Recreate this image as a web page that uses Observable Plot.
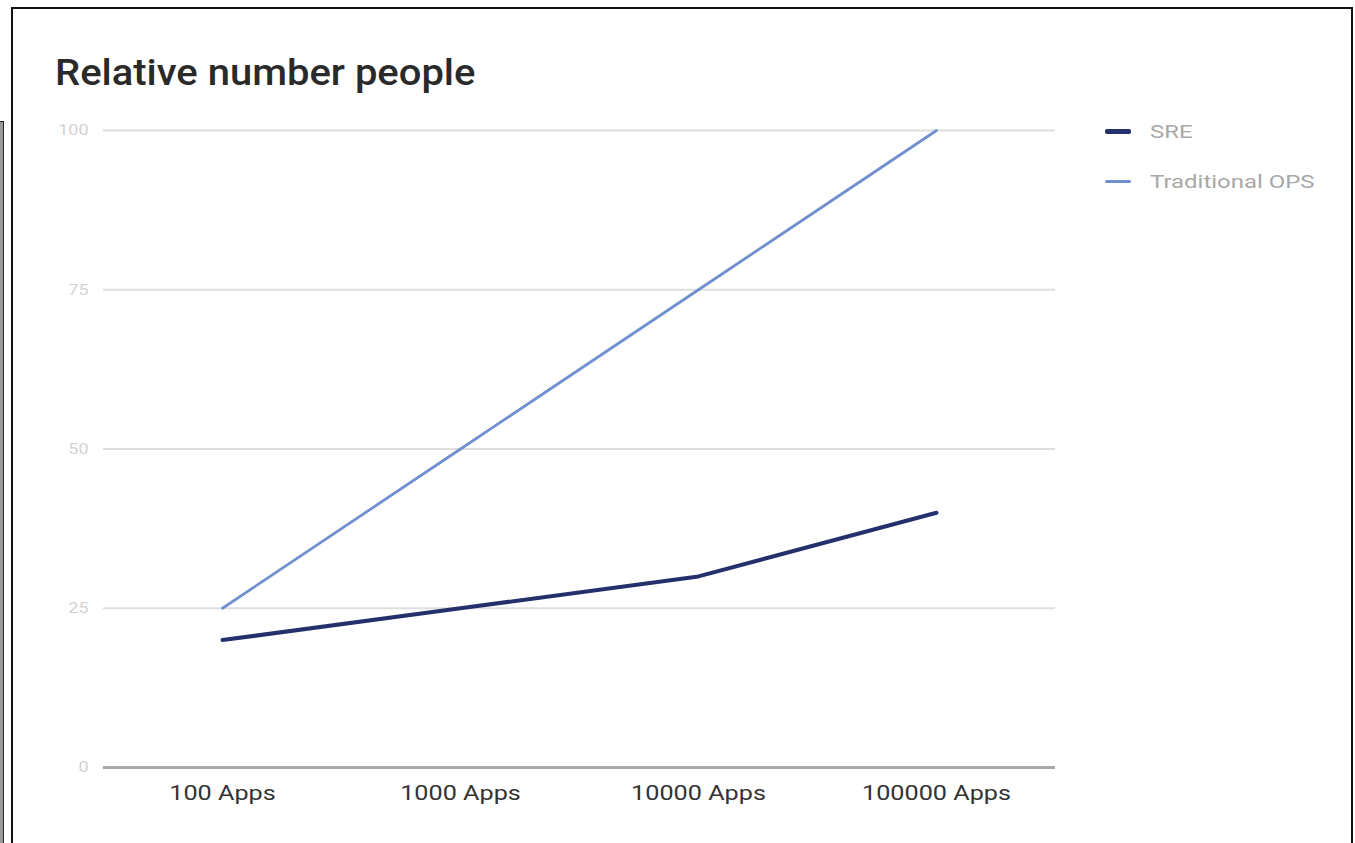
<!DOCTYPE html>
<html>
<head>
<meta charset="utf-8">
<script src="https://cdn.jsdelivr.net/npm/d3@7"></script>
<script src="https://cdn.jsdelivr.net/npm/@observablehq/plot@0.6"></script>
<style>
  html, body { margin: 0; padding: 0; background: #fff; }
  body { width: 1355px; height: 843px; position: relative; overflow: hidden; font-family: Roboto, "Noto Sans", sans-serif; }
  #frame { position: absolute; left: 11px; top: 7px; width: 1342px; height: 900px; border: 2px solid #111; box-sizing: border-box; }
  #sideframe { position: absolute; left: -2px; top: 121px; width: 6px; height: 800px; background: #9a9a9a; border: 1px solid #222; box-sizing: border-box; }
  #title { position: absolute; left: 55px; top: 52px; font-size: 36px; font-weight: 500; color: #2a2a2a; transform: scaleX(1.11); transform-origin: left center; white-space: nowrap; }
  #chart { position: absolute; left: 0; top: 0; }
  .leg { position: absolute; left: 1105px; display: flex; align-items: center; font-size: 19px; color: #a8a8a8; white-space: nowrap; }
  .leg .sw { width: 26px; margin-right: 19px; border-radius: 2px; }
  .leg span { display: inline-block; transform: scaleX(1.26); transform-origin: left center; }
</style>
</head>
<body>
<div id="frame"></div>
<div id="sideframe"></div>
<div id="chart"></div>
<div id="title">Relative number people</div>
<div id="legend"></div>
<script>
const categories = ["100 Apps", "1000 Apps", "10000 Apps", "100000 Apps"];
const sreValues = [20, 25, 30, 40];
const opsValues = [25, 50, 75, 100];
const seriesNames = ["SRE", "Traditional OPS"];
const seriesColors = ["#23306b", "#7090cf"];
const yTicks = [0, 25, 50, 75, 100];

const rows = [
  ...categories.map((c, i) => ({cat: c, value: sreValues[i], series: seriesNames[0]})),
  ...categories.map((c, i) => ({cat: c, value: opsValues[i], series: seriesNames[1]}))
];

const chart = Plot.plot({
  width: 1355,
  height: 843,
  marginLeft: 103,
  marginRight: 300,
  marginTop: 130,
  marginBottom: 76,
  style: {fontFamily: "Roboto, 'Noto Sans', sans-serif", background: "transparent"},
  x: {type: "point", domain: categories, padding: 0.5, label: null},
  y: {domain: [0, 100], ticks: yTicks, label: null},
  marks: [
    Plot.ruleY(yTicks.filter(t => t > 0), {stroke: "#dedede", strokeWidth: 2}),
    Plot.ruleY([0], {stroke: "#a8a8a8", strokeWidth: 3}),
    Plot.axisY({ticks: yTicks, tickSize: 0, tickPadding: 15, fontSize: 15, fill: "#d2d2d2", label: null}),
    Plot.axisX({tickSize: 0, tickPadding: 18, fontSize: 21, fill: "#333", label: null}),
    Plot.line(rows.filter(d => d.series === seriesNames[1]), {x: "cat", y: "value", stroke: seriesColors[1], strokeWidth: 2.8}),
    Plot.line(rows.filter(d => d.series === seriesNames[0]), {x: "cat", y: "value", stroke: seriesColors[0], strokeWidth: 4})
  ]
});
// widen tick labels horizontally, like the stretched reference
d3.select(chart).selectAll('g[aria-label="x-axis tick label"] text, g[aria-label="y-axis tick label"] text')
  .each(function() {
    const t = this.getAttribute("transform");
    if (t) this.setAttribute("transform", t + " scale(1.2,1)");
  });
document.getElementById("chart").appendChild(chart);

const legend = document.getElementById("legend");
seriesNames.forEach((name, i) => {
  const row = document.createElement("div");
  row.className = "leg";
  row.style.top = (120 + i * 50) + "px";
  const sw = document.createElement("div");
  sw.className = "sw";
  sw.style.height = (i === 0 ? 5 : 3) + "px";
  sw.style.background = seriesColors[i];
  const tx = document.createElement("span");
  tx.textContent = name;
  row.appendChild(sw);
  row.appendChild(tx);
  legend.appendChild(row);
});
</script>
</body>
</html>
